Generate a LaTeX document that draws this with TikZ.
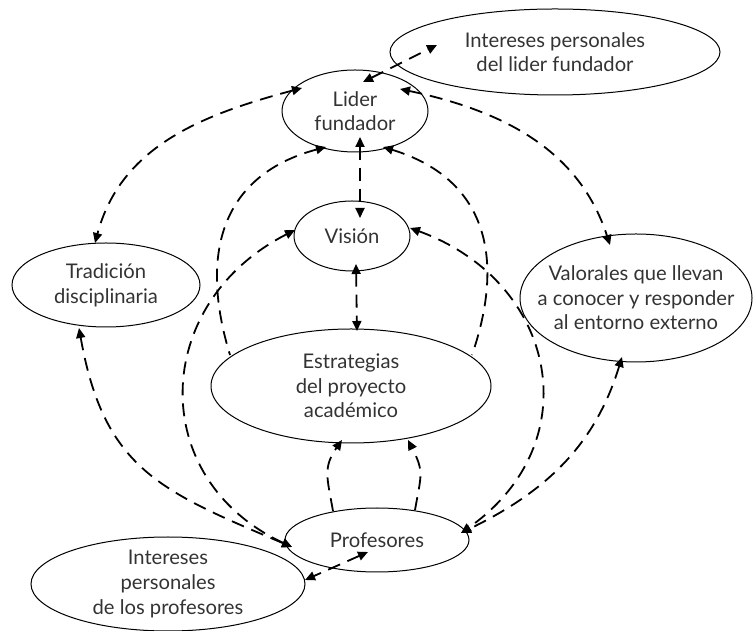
\documentclass[tikz,border=0pt]{standalone}
\usepackage{fontspec}
\setmainfont{Lato}
\usetikzlibrary{shapes, arrows.meta, calc}
\definecolor{textgray}{RGB}{51,51,51}

\begin{document}
\begin{tikzpicture}[x=0.5pt,y=0.5pt,
    bubble/.style={ellipse,draw,line width=0.5pt,inner sep=0pt,align=center,text=textgray,font=\fontsize{10.1}{12.3}\selectfont},
    link/.style={line width=0.9pt,dash pattern=on 6.5pt off 4pt,>={Triangle[length=5pt,width=4.5pt]}}]
    \useasboundingbox (0,0) rectangle (754,631);
    \node[bubble,minimum width=73pt,minimum height=41pt] (lider) at (355,520) {Lider\\fundador};
    \node[bubble,minimum width=165pt,minimum height=43pt] (intlider) at (555,579) {Intereses personales\\del lider fundador};
    \node[bubble,minimum width=58pt,minimum height=35pt] (vision) at (352,395) {Visión};
    \node[bubble,minimum width=94pt,minimum height=42pt] (trad) at (106,346) {Tradición\\disciplinaria};
    \node[bubble,minimum width=116pt,minimum height=64pt,inner xsep=-12pt] (valor) at (636,333) {Valorales que llevan\\a conocer y responder\\al entorno externo};
    \node[bubble,minimum width=140pt,minimum height=57pt] (estr) at (351,245) {Estrategias\\del proyecto\\académico};
    \node[bubble,minimum width=92pt,minimum height=32pt] (prof) at (377,91) {Profesores};
    \node[bubble,minimum width=137pt,minimum height=47pt,inner ysep=-2pt] (intprof) at (168,47) {Intereses\\personales\\de los profesores};

    \draw[link,<->] ($(lider)+(8,29)$) -- ($(intlider)+(-118,7)$);
    \draw[link,<->] ($(lider)+(-53,23)$) to[out=195,in=75] ($(trad)+(-11,42)$);
    \draw[link,<->] ($(lider)+(45,22)$) to[out=-12,in=108] ($(valor)+(-26,53)$);
    \draw[link,<->] ($(lider)+(5,-26)$) -- ($(vision)+(8,18)$);
    \draw[link,<->] ($(vision)+(4,-28)$) -- ($(estr)+(6,55)$);
    \draw[link,<-] ($(lider)+(-29,-36)$) to[out=195,in=107,looseness=1.2] ($(estr)+(-121,31)$);
    \draw[link,<-] ($(lider)+(28,-36)$) to[out=-17,in=71,looseness=1.2] ($(estr)+(121,31)$);
    \draw[link,<->] ($(vision)+(-57,6)$) to[out=207,in=155,looseness=1.3] ($(prof)+(-85,-7)$);
    \draw[link,<->] ($(trad)+(-27,-43)$) to[out=-80,in=157,looseness=1.2] ($(prof)+(-85,-7)$);
    \draw[link,<->] ($(vision)+(58,8)$) to[out=-20,in=35,looseness=1.3] ($(prof)+(84,7)$);
    \draw[link,<->] ($(valor)+(-14,-59)$) to[out=253,in=26] ($(prof)+(84,7)$);
    \draw[link,->] ($(prof)+(-44,29)$) to[out=100,in=235,looseness=1.2] ($(estr)+(-9,-54)$);
    \draw[link,->] ($(prof)+(38,30)$) to[out=80,in=297,looseness=1.3] ($(estr)+(57,-54)$);
    \draw[link,<->] ($(prof)+(-9,-12)$) -- ($(intprof)+(137,4)$);
\end{tikzpicture}
\end{document}
